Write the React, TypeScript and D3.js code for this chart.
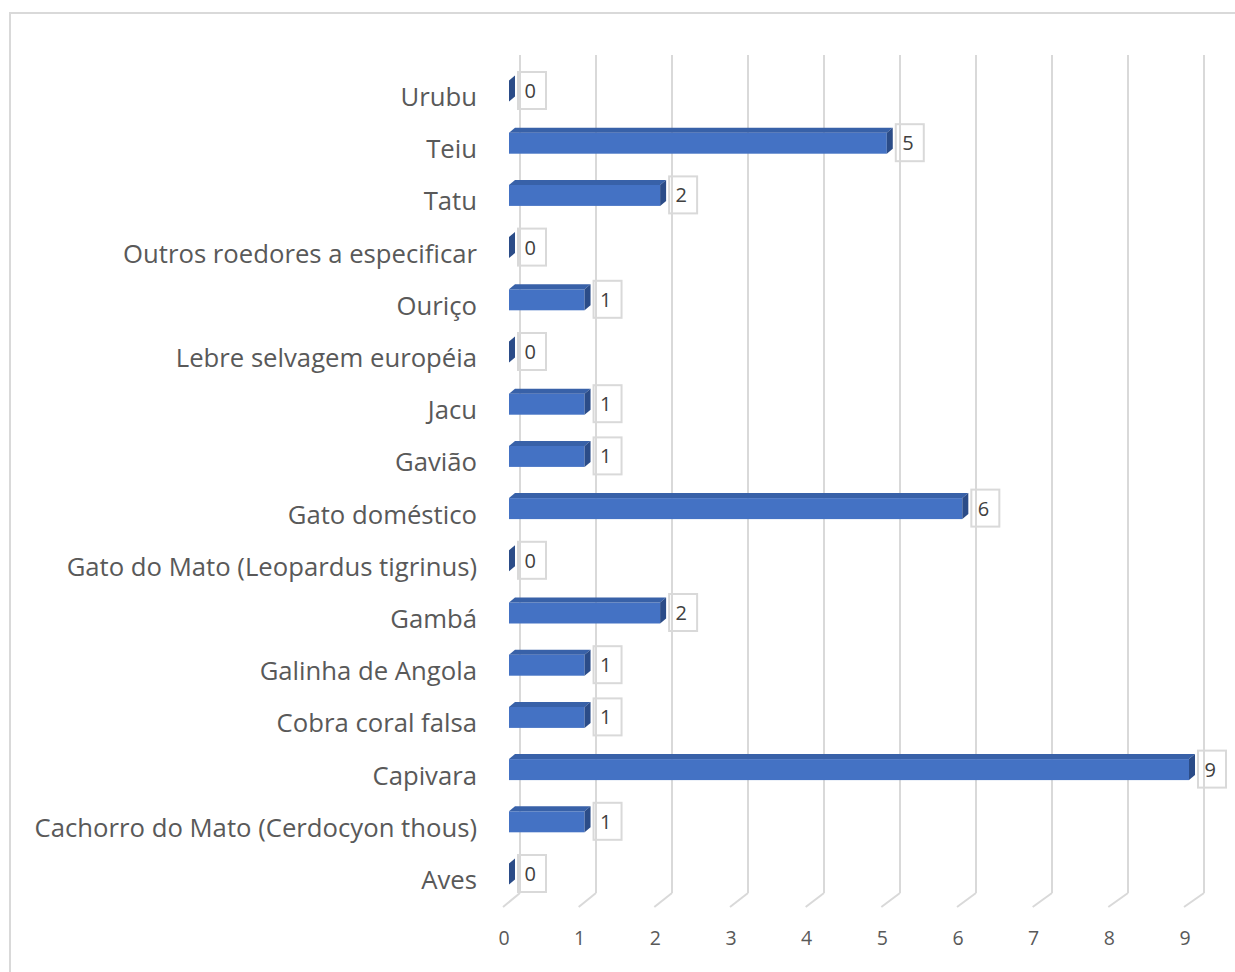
import React from "react";
import * as d3 from "d3";

const categories = [
  "Aves",
  "Cachorro do Mato (Cerdocyon thous)",
  "Capivara",
  "Cobra coral falsa",
  "Galinha de Angola",
  "Gambá",
  "Gato do Mato (Leopardus tigrinus)",
  "Gato doméstico",
  "Gavião",
  "Jacu",
  "Lebre selvagem européia",
  "Ouriço",
  "Outros roedores a especificar",
  "Tatu",
  "Teiu",
  "Urubu",
];
const values = [0, 1, 9, 1, 1, 2, 0, 6, 1, 1, 0, 1, 0, 2, 5, 0];
const ticks = [0, 1, 2, 3, 4, 5, 6, 7, 8, 9];

const FONT = "'Open Sans', 'Noto Sans', sans-serif";
const GRID = "#D9D9D9";
const TEXT = "#595959";

export default function App() {
  const W = 1235, H = 972;
  const xBar = d3.scaleLinear().domain([0, 9]).range([509, 1189]);
  const xBack = d3.scaleLinear().domain([0, 9]).range([520, 1204]);
  const xFront = d3.scaleLinear().domain([0, 9]).range([503, 1184]);
  const y = d3.scalePoint<string>().domain(categories).range([880, 97]);
  const gridTop = 55, gridBottom = 893, floorFront = 907;
  const dx = 6, dy = 5, half = 10.5, shift = 6;

  return (
    <svg width={W} height={H} style={{ position: "absolute", left: 0, top: 0, background: "#fff" }}>
      <rect x={10} y={13} width={1240} height={980} fill="#fff" stroke={GRID} strokeWidth={2} />
      {ticks.map((t) => (
        <g key={"g" + t}>
          <line x1={xBack(t)} x2={xBack(t)} y1={gridTop} y2={gridBottom} stroke={GRID} strokeWidth={2} />
          <line x1={xBack(t)} x2={xFront(t)} y1={gridBottom} y2={floorFront} stroke={GRID} strokeWidth={2} />
          <text x={xFront(t) + 1} y={945} textAnchor="middle" fontFamily={FONT} fontSize={19.5} fill={TEXT}>
            {t}
          </text>
        </g>
      ))}
      {categories.map((c, i) => {
        const v = values[i];
        const cy = (y(c) as number) - shift;
        const top = cy - half, bot = cy + half;
        const x0 = xBar(0), x1 = xBar(v);
        return (
          <g key={c}>
            {v > 0 && (
              <>
                <rect x={x0} y={top} width={x1 - x0} height={bot - top} fill="#4472C4" />
                <polygon
                  points={`${x0},${top} ${x0 + dx},${top - dy} ${x1 + dx},${top - dy} ${x1},${top}`}
                  fill="#3861A8"
                />
              </>
            )}
            <polygon
              points={`${x1},${top} ${x1 + dx},${top - dy} ${x1 + dx},${bot - dy} ${x1},${bot}`}
              fill="#2B4C88"
            />
            <rect x={x1 + 9} y={cy - 19} width={28} height={37} fill="none" stroke={GRID} strokeWidth={2} />
            <text x={x1 + 15.5} y={cy + 7} fontFamily={FONT} fontSize={20} fill="#404040">
              {v}
            </text>
            <text x={477} y={(y(c) as number) + 9} textAnchor="end" fontFamily={FONT} fontSize={25.7} fill={TEXT}>
              {c}
            </text>
          </g>
        );
      })}
    </svg>
  );
}
